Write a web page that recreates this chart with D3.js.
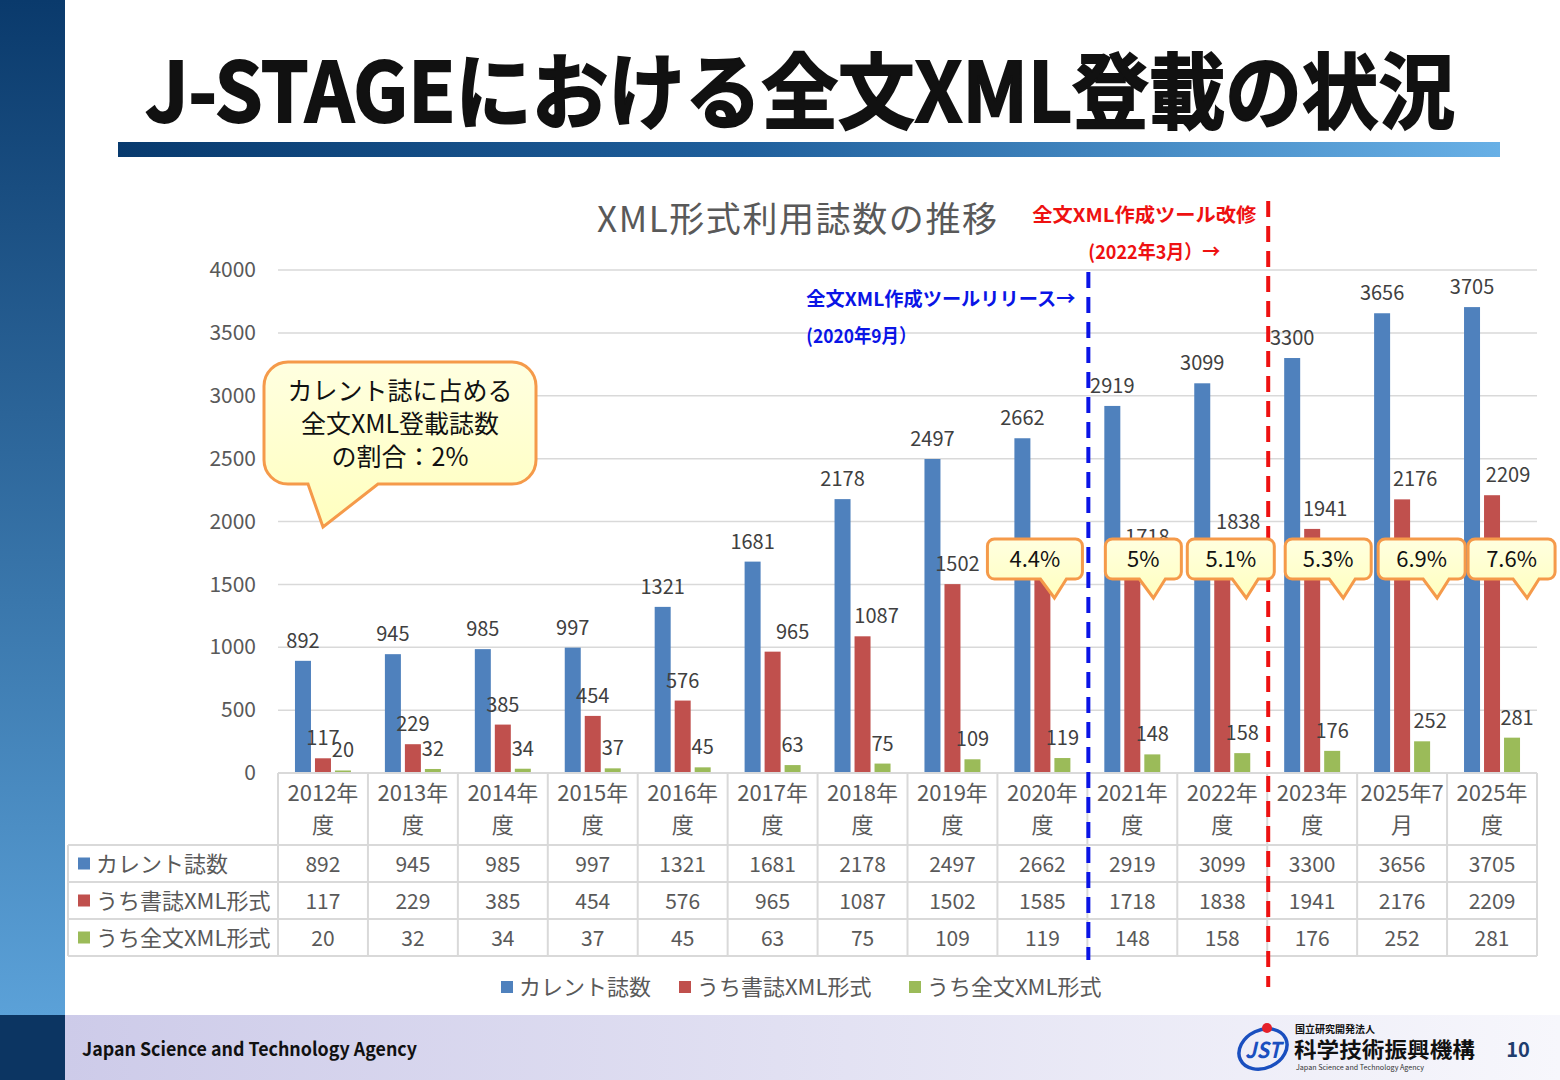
<!DOCTYPE html>
<html>
<head>
<meta charset="utf-8">
<script src="https://cdn.jsdelivr.net/npm/d3@7"></script>
<style>
html, body { margin: 0; padding: 0; background: #fff; }
svg { display: block; font-family: "Noto Sans CJK JP", "Noto Sans", sans-serif; }
</style>
</head>
<body>
<div id="chart"></div>
<script>
const categories = ["2012年度", "2013年度", "2014年度", "2015年度", "2016年度", "2017年度", "2018年度",
    "2019年度", "2020年度", "2021年度", "2022年度", "2023年度", "2025年7月", "2025年度"]
const tickLabels = [["2012年", "度"], ["2013年", "度"], ["2014年", "度"], ["2015年", "度"], ["2016年", "度"],
    ["2017年", "度"], ["2018年", "度"], ["2019年", "度"], ["2020年", "度"], ["2021年", "度"],
    ["2022年", "度"], ["2023年", "度"], ["2025年7", "月"], ["2025年", "度"]]
const seriesNames = ["カレント誌数", "うち書誌XML形式", "うち全文XML形式"]
const current = [892, 945, 985, 997, 1321, 1681, 2178, 2497, 2662, 2919, 3099, 3300, 3656, 3705]
const biblio = [117, 229, 385, 454, 576, 965, 1087, 1502, 1585, 1718, 1838, 1941, 2176, 2209]
const fulltext = [20, 32, 34, 37, 45, 63, 75, 109, 119, 148, 158, 176, 252, 281]
const yTicks = [0, 500, 1000, 1500, 2000, 2500, 3000, 3500, 4000]
const ratioCats = ["2020年度", "2021年度", "2022年度", "2023年度", "2025年7月", "2025年度"]
const ratioLabels = ["4.4%", "5%", "5.1%", "5.3%", "6.9%", "7.6%"]

const colors = ["#4f81bd", "#c0504d", "#9bbb59"]
// manual label nudges (as in the original slide)
const labelShift = [
    [0, 0, 0, 0, 0, 0, 0, 0, 0, 0, 0, 0, 0, 0],
    [0, 0, 0, 0, 0, 20, 14, 5, 0, 15, 16, 13, 13, 16],
    [0, 0, 0, 0, 0, 0, 0, 0, 0, 0, 0, 0, 8, 5]
]
const bubbleOffset = [-10, 18, 10, 18, 21, 21]
const bubbleWidth = [95, 76, 87, 86, 87, 87]

const W = 1560, H = 1080
const plot = {left: 278, right: 1537, top: 270, bottom: 773}

const svg = d3.select("#chart").append("svg")
    .attr("width", W)
    .attr("height", H)

const defs = svg.append("defs")
const side = defs.append("linearGradient").attr("id", "side").attr("x1", 0).attr("y1", 0).attr("x2", 0).attr("y2", 1)
side.append("stop").attr("offset", "0%").attr("stop-color", "#0a3a6c")
side.append("stop").attr("offset", "100%").attr("stop-color", "#5ba1d8")
const bar = defs.append("linearGradient").attr("id", "bar").attr("x1", 0).attr("y1", 0).attr("x2", 1).attr("y2", 0)
bar.append("stop").attr("offset", "0%").attr("stop-color", "#083a6e")
bar.append("stop").attr("offset", "45%").attr("stop-color", "#1f5f9c")
bar.append("stop").attr("offset", "100%").attr("stop-color", "#68b0e6")
const foot = defs.append("linearGradient").attr("id", "foot").attr("x1", 0).attr("y1", 0).attr("x2", 1).attr("y2", 0)
foot.append("stop").attr("offset", "0%").attr("stop-color", "#cdcbe9")
foot.append("stop").attr("offset", "100%").attr("stop-color", "#f7f7fc")
const bub = defs.append("linearGradient").attr("id", "bub").attr("x1", 0).attr("y1", 0).attr("x2", 0).attr("y2", 1)
bub.append("stop").attr("offset", "0%").attr("stop-color", "#ffffe0")
bub.append("stop").attr("offset", "100%").attr("stop-color", "#ffffbf")

// slide frame
svg.append("rect").attr("x", 0).attr("y", 0).attr("width", 65).attr("height", 1015).attr("fill", "url(#side)")
svg.append("rect").attr("x", 0).attr("y", 1015).attr("width", 65).attr("height", 65).attr("fill", "#0c3562")
svg.append("rect").attr("x", 65).attr("y", 1015).attr("width", W - 65).attr("height", 65).attr("fill", "url(#foot)")

svg.append("text")
    .attr("x", 145).attr("y", 122)
    .attr("font-size", 82).attr("font-weight", 700)
    .attr("fill", "#111").attr("stroke", "#111").attr("stroke-width", 2)
    .attr("textLength", 1310).attr("lengthAdjust", "spacingAndGlyphs")
    .text("J-STAGEにおける全文XML登載の状況")
svg.append("rect").attr("x", 118).attr("y", 142).attr("width", 1382).attr("height", 15).attr("fill", "url(#bar)")

svg.append("text")
    .attr("x", 82).attr("y", 1056)
    .attr("font-size", 19).attr("font-weight", 700).attr("fill", "#111")
    .attr("textLength", 335).attr("lengthAdjust", "spacingAndGlyphs")
    .text("Japan Science and Technology Agency")

// logo
const logo = svg.append("g")
logo.append("ellipse").attr("cx", 1263).attr("cy", 1049).attr("rx", 25).attr("ry", 19)
    .attr("transform", "rotate(-25,1263,1049)")
    .attr("fill", "none").attr("stroke", "#1a4fbf").attr("stroke-width", 3.5)
logo.append("text").attr("x", 1263).attr("y", 1058).attr("text-anchor", "middle")
    .attr("font-size", 22).attr("font-weight", 700).attr("font-style", "italic").attr("fill", "#1a4fbf")
    .attr("textLength", 36).attr("lengthAdjust", "spacingAndGlyphs")
    .text("JST")
logo.append("circle").attr("cx", 1267).attr("cy", 1028).attr("r", 5).attr("fill", "#e5202a")
logo.append("text").attr("x", 1295).attr("y", 1033).attr("font-size", 10).attr("font-weight", 700)
    .attr("fill", "#111").text("国立研究開発法人")
logo.append("text").attr("x", 1294).attr("y", 1057).attr("font-size", 21).attr("font-weight", 700)
    .attr("fill", "#111").attr("textLength", 181).attr("lengthAdjust", "spacingAndGlyphs")
    .text("科学技術振興機構")
logo.append("text").attr("x", 1296).attr("y", 1070).attr("font-size", 7)
    .attr("fill", "#333").attr("textLength", 128).attr("lengthAdjust", "spacingAndGlyphs")
    .text("Japan Science and Technology Agency")
svg.append("text").attr("x", 1518).attr("y", 1057).attr("text-anchor", "middle")
    .attr("font-size", 20).attr("font-weight", 700).attr("fill", "#1f3d6e").text("10")

// chart
svg.append("text")
    .attr("x", 797).attr("y", 232).attr("text-anchor", "middle")
    .attr("font-size", 35).attr("fill", "#595959")
    .attr("textLength", 400).attr("lengthAdjust", "spacing")
    .text("XML形式利用誌数の推移")

const x = d3.scaleBand()
    .domain(categories)
    .range([plot.left, plot.right])
    .padding(0)
const bw = x.bandwidth()

const xs = d3.scaleBand()
    .domain(seriesNames)
    .range([bw / 2 - 28, bw / 2 + 28])
    .paddingInner(0.2)

const y = d3.scaleLinear()
    .domain([0, 4000])
    .range([plot.bottom, plot.top])

const grid = svg.append("g")
grid.selectAll("line")
    .data(yTicks.filter(d => d > 0))
    .enter()
    .append("line")
    .attr("x1", plot.left).attr("x2", plot.right)
    .attr("y1", d => y(d)).attr("y2", d => y(d))
    .attr("stroke", "#d9d9d9").attr("stroke-width", 1.5)

const yAxis = d3.axisLeft(y).tickValues(yTicks).tickFormat(d3.format("d")).tickSize(0).tickPadding(0)
const yg = svg.append("g")
    .attr("transform", "translate(256,0)")
    .call(yAxis)
yg.select(".domain").remove()
yg.selectAll("text")
    .attr("font-size", 21).attr("fill", "#595959")
    .attr("font-family", "\"Noto Sans CJK JP\", sans-serif")

const series = [current, biblio, fulltext]
const rows = series.map((vals, s) => vals.map((v, i) => ({s, i, v, cat: categories[i], name: seriesNames[s]})))

const groups = svg.append("g")
    .selectAll("g")
    .data(rows)
    .enter()
    .append("g")

groups.selectAll("rect")
    .data(d => d)
    .enter()
    .append("rect")
    .attr("x", d => x(d.cat) + xs(d.name))
    .attr("y", d => y(d.v))
    .attr("width", xs.bandwidth())
    .attr("height", d => y(0) - y(d.v))
    .attr("fill", d => colors[d.s])

groups.selectAll("text")
    .data(d => d)
    .enter()
    .append("text")
    .attr("x", d => x(d.cat) + xs(d.name) + xs.bandwidth() / 2 + labelShift[d.s][d.i])
    .attr("y", d => y(d.v) - 13)
    .attr("text-anchor", "middle")
    .attr("font-size", 20)
    .attr("fill", "#404040")
    .text(d => d.v)

// data table
const table = svg.append("g")
const rowTop = [845, 882, 919]
const rowH = 37
const lineCol = "#d9d9d9"
table.append("line").attr("x1", plot.left).attr("x2", plot.right).attr("y1", plot.bottom).attr("y2", plot.bottom)
    .attr("stroke", lineCol).attr("stroke-width", 2)
rowTop.concat([rowTop[2] + rowH]).forEach(yy => {
    table.append("line").attr("x1", 68).attr("x2", plot.right).attr("y1", yy).attr("y2", yy)
        .attr("stroke", lineCol).attr("stroke-width", 2)
})
table.append("line").attr("x1", 68).attr("x2", 68).attr("y1", rowTop[0]).attr("y2", rowTop[2] + rowH)
    .attr("stroke", lineCol).attr("stroke-width", 2)
table.selectAll(".vline")
    .data(categories.concat(["end"]))
    .enter()
    .append("line")
    .attr("x1", (d, i) => plot.left + i * bw)
    .attr("x2", (d, i) => plot.left + i * bw)
    .attr("y1", plot.bottom).attr("y2", rowTop[2] + rowH)
    .attr("stroke", lineCol).attr("stroke-width", 2)

categories.forEach((c, i) => {
    tickLabels[i].forEach((t, k) => {
        table.append("text")
            .attr("x", x(c) + bw / 2)
            .attr("y", 801 + k * 32)
            .attr("text-anchor", "middle")
            .attr("font-size", 22)
            .attr("fill", "#595959")
            .text(t)
    })
})

series.forEach((vals, s) => {
    const cy = rowTop[s] + rowH / 2
    table.append("rect").attr("x", 78).attr("y", cy - 6).attr("width", 12).attr("height", 12).attr("fill", colors[s])
    table.append("text").attr("x", 96).attr("y", cy + 8)
        .attr("font-size", 22).attr("fill", "#595959").text(seriesNames[s])
    table.selectAll(".v" + s)
        .data(vals)
        .enter()
        .append("text")
        .attr("x", (d, i) => x(categories[i]) + bw / 2)
        .attr("y", cy + 8)
        .attr("text-anchor", "middle")
        .attr("font-size", 21)
        .attr("fill", "#595959")
        .text(d => d)
})

// legend
const legendX = [501, 679, 909]
const legend = svg.append("g")
seriesNames.forEach((n, s) => {
    legend.append("rect").attr("x", legendX[s]).attr("y", 981).attr("width", 12).attr("height", 12).attr("fill", colors[s])
    legend.append("text").attr("x", legendX[s] + 18).attr("y", 995)
        .attr("font-size", 22).attr("fill", "#595959").text(n)
})

// tool release markers
const blueX = x("2021年度") + 1
const redX = x("2023年度") + 1
svg.append("line").attr("x1", blueX).attr("x2", blueX).attr("y1", 272).attr("y2", 960)
    .attr("stroke", "#0a14e6").attr("stroke-width", 4).attr("stroke-dasharray", "16,9")
svg.append("line").attr("x1", redX).attr("x2", redX).attr("y1", 201).attr("y2", 987)
    .attr("stroke", "#ee1111").attr("stroke-width", 4).attr("stroke-dasharray", "16,9")

const note = svg.append("g").attr("font-size", 19).attr("font-weight", 700)
note.append("text").attr("x", blueX - 282).attr("y", 306).attr("fill", "#0a14e6")
    .attr("textLength", 269).attr("lengthAdjust", "spacingAndGlyphs").text("全文XML作成ツールリリース→")
note.append("text").attr("x", blueX - 282).attr("y", 343).attr("fill", "#0a14e6")
    .attr("textLength", 110).attr("lengthAdjust", "spacingAndGlyphs").text("(2020年9月）")
note.append("text").attr("x", redX - 236).attr("y", 222).attr("fill", "#ee1111")
    .attr("textLength", 224).attr("lengthAdjust", "spacingAndGlyphs").text("全文XML作成ツール改修")
note.append("text").attr("x", blueX).attr("y", 259).attr("fill", "#ee1111")
    .attr("textLength", 132).attr("lengthAdjust", "spacingAndGlyphs").text("(2022年3月）→")

// speech bubbles
function bubble(x0, y0, x1, y1, r, a, b, tx, ty) {
    const p = d3.path()
    p.moveTo(x0 + r, y0)
    p.lineTo(x1 - r, y0)
    p.arcTo(x1, y0, x1, y0 + r, r)
    p.lineTo(x1, y1 - r)
    p.arcTo(x1, y1, x1 - r, y1, r)
    p.lineTo(b, y1)
    p.lineTo(tx, ty)
    p.lineTo(a, y1)
    p.lineTo(x0 + r, y1)
    p.arcTo(x0, y1, x0, y1 - r, r)
    p.lineTo(x0, y0 + r)
    p.arcTo(x0, y0, x0 + r, y0, r)
    p.closePath()
    return p.toString()
}

const bubbles = svg.append("g")
ratioCats.forEach((c, k) => {
    const x0 = x(c) + bubbleOffset[k]
    const x1 = x0 + bubbleWidth[k]
    const tip = x1 - 28
    bubbles.append("path")
        .attr("d", bubble(x0, 539, x1, 579, 7, tip - 14, tip + 12, tip, 598))
        .attr("fill", "url(#bub)").attr("stroke", "#f59a4a").attr("stroke-width", 3)
    bubbles.append("text")
        .attr("x", (x0 + x1) / 2).attr("y", 567)
        .attr("text-anchor", "middle").attr("font-size", 22).attr("fill", "#111")
        .text(ratioLabels[k])
})

bubbles.append("path")
    .attr("d", bubble(264, 362, 536, 484, 24, 308, 378, 323, 527))
    .attr("fill", "url(#bub)").attr("stroke", "#f59a4a").attr("stroke-width", 3)
const bigLines = ["カレント誌に占める", "全文XML登載誌数", "の割合：2%"]
bigLines.forEach((t, k) => {
    bubbles.append("text")
        .attr("x", 400).attr("y", 400 + k * 33)
        .attr("text-anchor", "middle").attr("font-size", 25).attr("fill", "#111")
        .text(t)
})
</script>
</body>
</html>
